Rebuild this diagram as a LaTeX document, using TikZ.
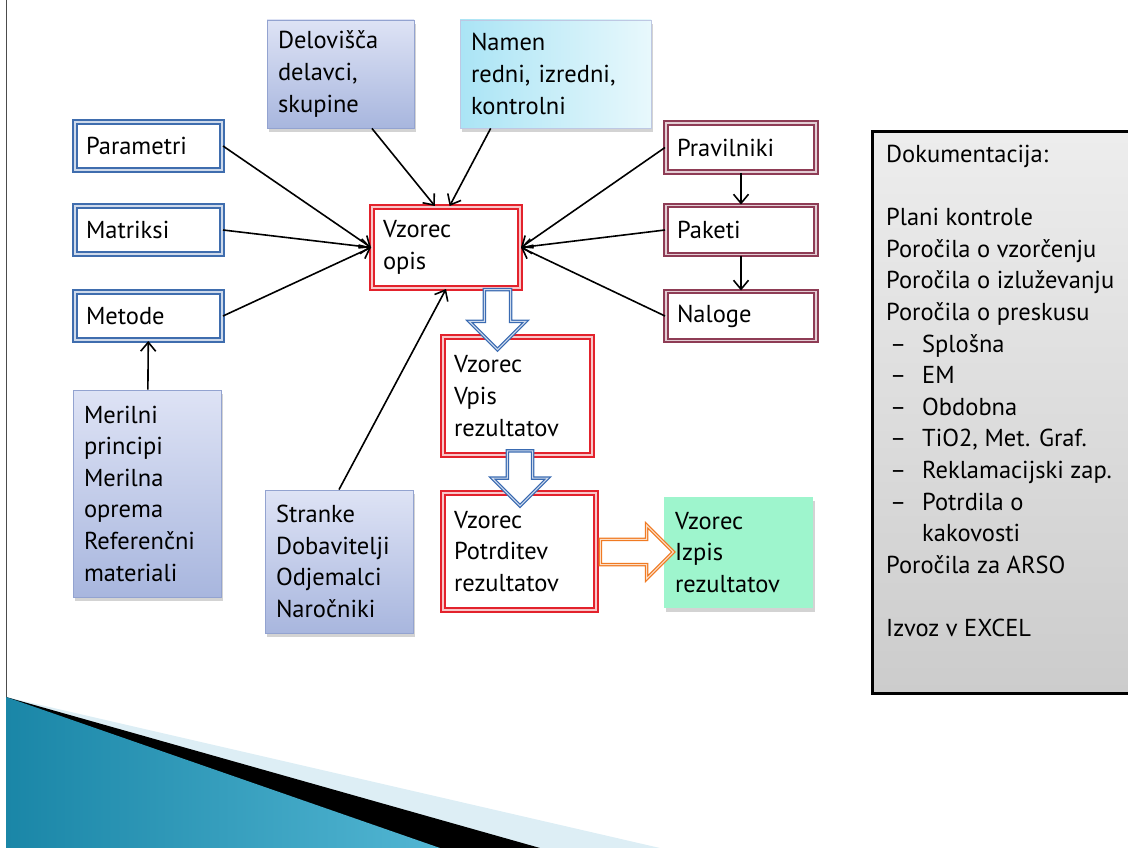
\documentclass[tikz,border=0pt]{standalone}
\usepackage{fontspec}
\setmainfont{PT Sans}
\usetikzlibrary{positioning,shapes.arrows,shadows,arrows.meta}

\definecolor{frameblue}{HTML}{3F6DAE}
\definecolor{framered}{HTML}{E3222C}
\definecolor{framewine}{HTML}{8E3C55}
\definecolor{lavtop}{HTML}{DEE3F5}
\definecolor{lavbot}{HTML}{A8B6DE}
\definecolor{lavline}{HTML}{93A3D0}
\definecolor{cyanleft}{HTML}{AAE4F5}
\definecolor{cyanright}{HTML}{E8F8FC}
\definecolor{mint}{HTML}{9EF5CD}
\definecolor{arrowblue}{HTML}{3A6BB2}
\definecolor{arroworange}{HTML}{F07A22}
\definecolor{tealdark}{HTML}{1A86A7}
\definecolor{teallight}{HTML}{52B6D3}
\definecolor{wedgeblue}{HTML}{DDEEF5}

\newcommand{\docitem}[1]{\makebox[36pt][l]{\hspace{4pt}--}#1}

\tikzset{
  txt/.style={align=left, font=\fontsize{24.5}{31.6}\selectfont, inner xsep=11pt},
  framebox/.style={txt, line width=2pt, double distance=1.2pt, fill=white},
  bluebox/.style={framebox, draw=frameblue, double=frameblue!25, minimum width=147pt, text width=125pt, minimum height=48pt},
  winebox/.style={framebox, draw=framewine, double=framewine!25, minimum width=150pt, text width=128pt, minimum height=49pt},
  redbox/.style={framebox, draw=framered, double=framered!25},
  shadowed/.style={drop shadow={opacity=0.35, shadow xshift=2pt, shadow yshift=-4pt}},
  lavbox/.style={txt, shadowed, draw=lavline, line width=0.8pt, top color=lavtop, bottom color=lavbot},
  blockarrow/.style={single arrow, draw=#1, double=#1!25, line width=1.3pt, double distance=1pt,
    fill=white, minimum width=0pt},
  conn/.style={-{Straight Barb[length=9pt,width=15pt]}, line width=1.6pt}
}

\begin{document}
\begin{tikzpicture}[x=1pt,y=-1pt]
\useasboundingbox (0,0) rectangle (1128,848);
\clip (0,0) rectangle (1128,848);

% slide background
\draw[line width=1pt, black!70] (6,0) -- (6,700);
\fill[wedgeblue] (6,697) -- (660,848) -- (6,848) -- cycle;
\fill[black] (6,697) -- (540,848) -- (6,848) -- cycle;
\shade[left color=tealdark, right color=teallight] (6,697) -- (440,848) -- (6,848) -- cycle;

% left column
\node[bluebox] (par) at (148.5,146) {Parametri};
\node[bluebox] (mat) at (148.5,230) {Matriksi};
\node[bluebox] (met) at (148.5,316) {Metode};
\node[lavbox, minimum width=148pt, text width=126pt, minimum height=207pt] (mer) at (147,493.5)
  {Merilni\\principi\\Merilna\\oprema\\Referenčni\\materiali};

% top row
\node[lavbox, minimum width=147pt, text width=125pt, minimum height=108pt] (del) at (340.5,74)
  {Delovišča\\delavci,\\skupine};
\node[txt, shadowed, draw=lavline!60, line width=0.8pt, left color=cyanleft, right color=cyanright,
  minimum width=191pt, text width=169pt, minimum height=108pt] (nam) at (555.5,74)
  {Namen\\redni, izredni,\\kontrolni};

% sample flow
\node[redbox, minimum width=148pt, text width=126pt, minimum height=81pt] (opis) at (446,247.5) {Vzorec\\opis};
\node[redbox, minimum width=149pt, text width=127pt, minimum height=118pt] (vpis) at (517.5,396) {Vzorec\\Vpis\\rezultatov};
\node[redbox, minimum width=153pt, text width=131pt, minimum height=117pt] (potr) at (519.5,551.5) {Vzorec\\Potrditev\\rezultatov};
\node[txt, shadowed, fill=mint, minimum width=149pt, text width=127pt, minimum height=111pt] (izp) at (738.5,552.5) {Vzorec\\Izpis\\rezultatov};
\node[lavbox, minimum width=148pt, text width=126pt, minimum height=143pt] (str) at (339,561.5)
  {Stranke\\Dobavitelji\\Odjemalci\\Naročniki};

% right column
\node[winebox] (pra) at (741,147.5) {Pravilniki};
\node[winebox] (pak) at (741,230) {Paketi};
\node[winebox] (nal) at (741,316) {Naloge};

% block arrows
\node[blockarrow=arrowblue, minimum height=60pt, inner sep=12.5pt, single arrow head extend=15pt, shape border rotate=270] (down1) at (497.5,313) {};
\node[blockarrow=arrowblue, minimum height=55pt, inner sep=12pt, single arrow head extend=15pt, shape border rotate=270] (down2) at (520,472) {};
\node[blockarrow=arroworange, minimum height=73pt, inner sep=12pt, single arrow head extend=14pt] (right1) at (630.5,552) {};

% documentation
\node[draw=black, line width=3pt, top color=black!7, bottom color=black!20,
  minimum width=262pt, minimum height=561pt] (docs) at (1003,412.5) {};
\node[txt, anchor=north west, inner sep=0pt] (doctext) at (886,145)
  {Dokumentacija:\\[31.6pt]
   Plani kontrole\\
   Poročila o vzorčenju\\
   Poročila o izluževanju\\
   Poročila o preskusu\\
   \docitem{Splošna}\\
   \docitem{EM}\\
   \docitem{Obdobna}\\
   \docitem{TiO2, Met. Graf.}\\
   \docitem{Reklamacijski zap.}\\
   \docitem{Potrdila o}\\
   \hspace*{36pt}kakovosti\\
   Poročila za ARSO\\[31.6pt]
   Izvoz v EXCEL};

% connectors
\draw[conn] (par.east) -- (opis.west);
\draw[conn] (mat.east) -- (opis.west);
\draw[conn] (met.east) -- (opis.west);
\draw[conn] (del.-60) -- (opis.105);
\draw[conn] (nam.-140) -- (opis.85);
\draw[conn] (pra.west) -- (opis.east);
\draw[conn] (pak.west) -- (opis.east);
\draw[conn] (nal.west) -- (opis.east);
\draw[conn] (pra) -- (pak);
\draw[conn] (pak) -- (nal);
\draw[conn] (mer) -- (met);
\draw[conn] (str.north) -- (opis.south);
\end{tikzpicture}
\end{document}
